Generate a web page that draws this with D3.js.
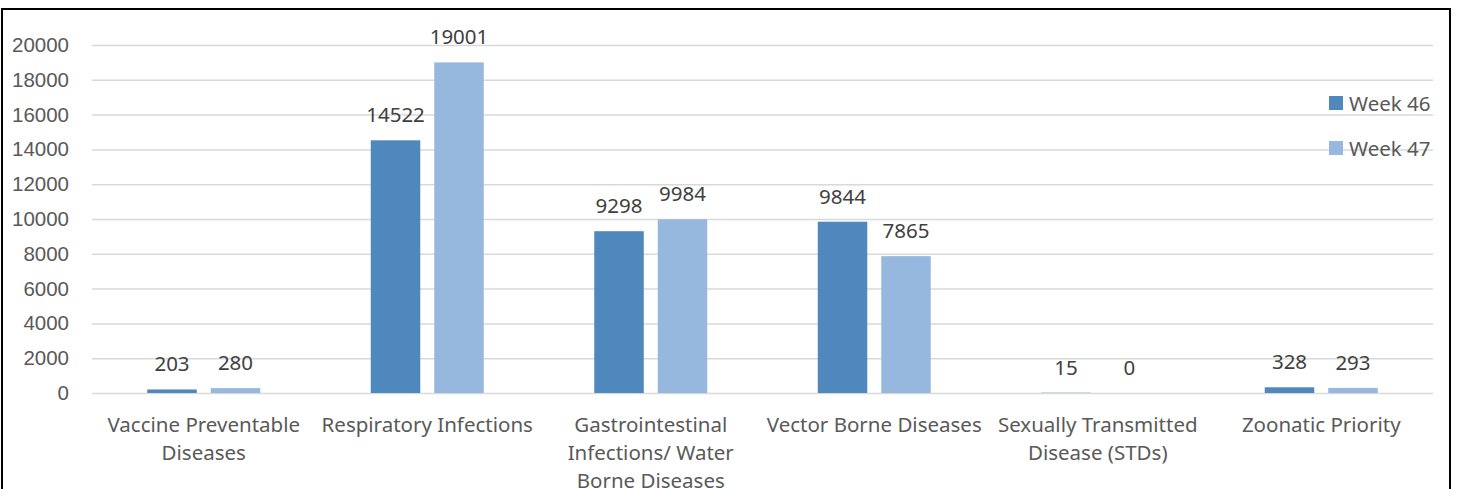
<!DOCTYPE html>
<html>
<head>
<meta charset="utf-8">
<script src="https://cdn.jsdelivr.net/npm/d3@7"></script>
<style>
  html, body { margin: 0; padding: 0; background: #fff; }
  svg { display: block; font-family: "Noto Sans", sans-serif; }
</style>
</head>
<body>
<div id="chart"></div>
<script>
// data
const categories = ["Vaccine Preventable Diseases", "Respiratory Infections",
  "Gastrointestinal Infections/ Water Borne Diseases", "Vector Borne Diseases",
  "Sexually Transmitted Disease (STDs)", "Zoonatic Priority"]
// how excel wrapped the category labels
const categoryLines = [
  ["Vaccine Preventable", "Diseases"],
  ["Respiratory Infections"],
  ["Gastrointestinal", "Infections/ Water", "Borne Diseases"],
  ["Vector Borne Diseases"],
  ["Sexually Transmitted", "Disease (STDs)"],
  ["Zoonatic Priority"]
]
const seriesNames = ["Week 46", "Week 47"]
const week46 = [203, 14522, 9298, 9844, 15, 328]
const week47 = [280, 19001, 9984, 7865, 0, 293]
const yTicks = [0, 2000, 4000, 6000, 8000, 10000, 12000, 14000, 16000, 18000, 20000]

const width = 1458, height = 489
const margin = ({top: 45, right: 25, bottom: 96, left: 92})
const plotW = 1433 - margin.left
const plotH = 393 - margin.top
const fs = 20.5

const color = d3.scaleOrdinal().domain(seriesNames).range(["#4f88bc", "#96b8df"])

const rows = categories.map((c, i) => ({
  cat: c,
  lines: categoryLines[i],
  values: [{name: seriesNames[0], v: week46[i]}, {name: seriesNames[1], v: week47[i]}]
}))

const svg = d3.select('#chart').append('svg')
    .attr('width', width)
    .attr('height', height)

// outer frame
svg.append('rect')
    .attr('x', 2).attr('y', 9)
    .attr('width', 1448).attr('height', 500)
    .attr('fill', 'none')
    .attr('stroke', '#000')
    .attr('stroke-width', 2)

const g = svg.append('g')
    .attr('transform', `translate(${margin.left}, ${margin.top})`)

const x0 = d3.scaleBand().domain(categories).range([0, plotW])
const x1 = d3.scaleBand().domain(seriesNames).range([0, 113]).paddingInner(0.22)
const y = d3.scaleLinear().domain([0, 20000]).range([plotH, 0])

// y axis + grid
g.append('g')
    .call(d3.axisLeft(y).tickValues(yTicks).tickFormat(d3.format('d')).tickSize(0).tickPadding(23))
    .call(g => g.select('.domain').remove())
    .call(g => g.selectAll('.tick text')
      .attr('fill', '#595959').attr('font-size', fs))
    .call(g => g.selectAll('.tick line').clone()
      .attr('stroke', '#d9d9d9').attr('stroke-width', 1.5)
      .attr('x1', 0).attr('x2', plotW))

// bars
const groups = g.selectAll('.grp')
  .data(rows)
  .join('g')
    .attr('class', 'grp')
    .attr('transform', d => `translate(${x0(d.cat) + x0.bandwidth() / 2 - 56.5}, 0)`)

groups.selectAll('rect')
  .data(d => d.values)
  .join('rect')
    .attr('x', d => x1(d.name))
    .attr('y', d => y(d.v))
    .attr('width', x1.bandwidth())
    .attr('height', d => plotH - y(d.v))
    .attr('fill', d => color(d.name))

// data labels
groups.selectAll('text.val')
  .data(d => d.values)
  .join('text')
    .attr('class', 'val')
    .attr('x', d => x1(d.name) + x1.bandwidth() / 2)
    .attr('y', d => y(d.v) - 26)
    .attr('text-anchor', 'middle')
    .attr('dominant-baseline', 'central')
    .attr('font-size', fs)
    .attr('fill', '#404040')
    .text(d => d.v)

// category labels
const xl = g.append('g').attr('transform', `translate(0, ${plotH})`)
xl.selectAll('text')
  .data(rows)
  .join('text')
    .attr('x', d => x0(d.cat) + x0.bandwidth() / 2)
    .attr('text-anchor', 'middle')
    .attr('font-size', fs)
    .attr('fill', '#595959')
  .selectAll('tspan')
  .data(d => d.lines.map((l, i) => ({l, i, x: x0(d.cat) + x0.bandwidth() / 2})))
  .join('tspan')
    .attr('x', d => d.x)
    .attr('y', d => 39 + d.i * 28)
    .text(d => d.l)

// legend
const legend = svg.append('g').attr('transform', 'translate(1329, 96)')
const li = legend.selectAll('g')
  .data(seriesNames)
  .join('g')
    .attr('transform', (d, i) => `translate(0, ${i * 45})`)
li.append('rect')
    .attr('width', 14).attr('height', 14)
    .attr('fill', d => color(d))
li.append('text')
    .attr('x', 20).attr('y', 7)
    .attr('dominant-baseline', 'central')
    .attr('font-size', fs)
    .attr('fill', '#595959')
    .text(d => d)
</script>
</body>
</html>
